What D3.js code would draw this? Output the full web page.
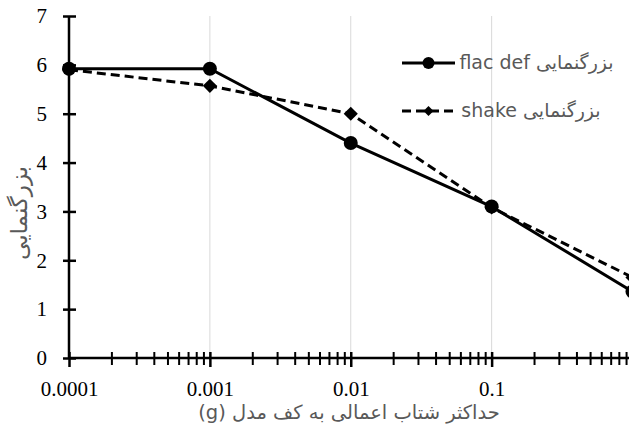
<!DOCTYPE html>
<html><head><meta charset="utf-8">
<script src="https://cdn.jsdelivr.net/npm/d3@7"></script>
<style>html,body{margin:0;padding:0;background:#fff;overflow:hidden}</style>
</head><body>
<svg id="c" width="629" height="433"></svg>
<script>
const accel = [0.0001, 0.001, 0.01, 0.1, 1];
const flacDef = [5.92, 5.92, 4.40, 3.10, 1.36];
const shake = [5.90, 5.57, 5.00, 3.08, 1.65];
const seriesNames = ["بزرگنمایی flac def", "بزرگنمایی shake"];
const yTicks = [0, 1, 2, 3, 4, 5, 6, 7];
const xMajor = [0.0001, 0.001, 0.01, 0.1];
const xLabels = ["0.0001", "0.001", "0.01", "0.1"];
const xTitle = "حداکثر شتاب اعمالی به کف مدل (g)";
const yTitle = "بزرگنمایی";

const serif = "'Liberation Serif', 'Times New Roman', Times, serif";
const sans = "'DejaVu Sans', sans-serif";

const svg = d3.select("#c");
const x = d3.scaleLog().domain([0.0001, 1]).range([69, 632.5]);
const y = d3.scaleLinear().domain([0, 7]).range([358, 16]);

// gridlines
svg.append("g").selectAll("line").data(xMajor.slice(1)).join("line")
  .attr("x1", d => x(d)).attr("x2", d => x(d)).attr("y1", y(7)).attr("y2", y(0))
  .attr("stroke", "#d9d9d9").attr("stroke-width", 1);

// minor x ticks
const minor = [];
for (let e = -4; e < 0; e++) for (let k = 2; k <= 9; k++) minor.push(k * Math.pow(10, e));
const gMinor = svg.append("g").attr("transform", `translate(0,${y(0)})`)
  .call(d3.axisBottom(x).tickValues(minor).tickSize(7).tickFormat(""));
gMinor.select(".domain").remove();
gMinor.selectAll(".tick line").attr("y1", -6).attr("y2", 7).attr("stroke", "#000").attr("stroke-width", 2);

// major x axis
const gx = svg.append("g").attr("transform", `translate(0,${y(0)})`)
  .call(d3.axisBottom(x).tickValues(xMajor).tickSize(9).tickPadding(14)
    .tickFormat((d, i) => xLabels[i]));
gx.attr("font-family", serif).attr("font-size", 21);
gx.select(".domain").attr("stroke", "#000").attr("stroke-width", 2.5).attr("d", `M${x(0.0001)},0H629`);
gx.selectAll(".tick line").attr("y1", -6).attr("y2", 9).attr("stroke", "#000").attr("stroke-width", 2.5);
gx.selectAll(".tick text").style("font-family", serif).style("font-size", "21px").attr("fill", "#000");

// y axis
const gy = svg.append("g").attr("transform", `translate(${x(0.0001)},0)`)
  .call(d3.axisLeft(y).tickValues(yTicks).tickSize(6).tickPadding(16).tickFormat(d3.format("d")));
gy.attr("font-family", serif).attr("font-size", 21);
gy.select(".domain").attr("stroke", "#000").attr("stroke-width", 2.5).attr("d", `M0,${y(7)}V${y(0)}`);
gy.selectAll(".tick line").attr("x1", -6).attr("x2", 7).attr("stroke", "#000").attr("stroke-width", 2.5);
gy.selectAll(".tick text").style("font-family", serif).style("font-size", "21px").attr("fill", "#000");

const line = d3.line().x((d, i) => x(accel[i])).y(d => y(d));

// shake (dashed)
svg.append("path").datum(shake).attr("d", line).attr("fill", "none")
  .attr("stroke", "#000").attr("stroke-width", 3).attr("stroke-dasharray", "9,5");
// flac def (solid)
svg.append("path").datum(flacDef).attr("d", line).attr("fill", "none")
  .attr("stroke", "#000").attr("stroke-width", 3);

svg.append("g").selectAll("path").data(shake).join("path")
  .attr("transform", (d, i) => `translate(${x(accel[i])},${y(d)}) rotate(45)`)
  .attr("d", d3.symbol().type(d3.symbolSquare).size(100)).attr("fill", "#000");
svg.append("g").selectAll("circle").data(flacDef).join("circle")
  .attr("cx", (d, i) => x(accel[i])).attr("cy", d => y(d)).attr("r", 7).attr("fill", "#000");

// legend
const lg = svg.append("g");
const ly = [63, 111];
lg.append("line").attr("x1", 402).attr("x2", 455).attr("y1", ly[0]).attr("y2", ly[0])
  .attr("stroke", "#000").attr("stroke-width", 3);
lg.append("circle").attr("cx", 428.5).attr("cy", ly[0]).attr("r", 6).attr("fill", "#000");
lg.append("line").attr("x1", 402).attr("x2", 455).attr("y1", ly[1]).attr("y2", ly[1])
  .attr("stroke", "#000").attr("stroke-width", 3).attr("stroke-dasharray", "9,5");
lg.append("path").attr("transform", `translate(428.5,${ly[1]}) rotate(45)`)
  .attr("d", d3.symbol().type(d3.symbolSquare).size(50)).attr("fill", "#000");
lg.selectAll("text").data(seriesNames).join("text")
  .attr("x", (d, i) => i === 0 ? 536.5 : 531).attr("y", (d, i) => ly[i] + 6)
  .attr("text-anchor", "middle").attr("direction", "rtl").style("direction", "rtl")
  .attr("font-family", sans).attr("font-size", 19).attr("fill", "#595959")
  .text(d => d);

// axis titles
svg.append("text").attr("x", 349).attr("y", 419).attr("text-anchor", "middle")
  .attr("direction", "rtl").style("direction", "rtl")
  .attr("font-family", sans).attr("font-size", 19.5).attr("fill", "#595959")
  .text(xTitle);
svg.append("text").attr("transform", "translate(27,213) rotate(-90)").attr("text-anchor", "middle")
  .attr("direction", "rtl").style("direction", "rtl")
  .attr("font-family", sans).attr("font-size", 23).attr("fill", "#595959")
  .text(yTitle);
</script>
</body></html>
